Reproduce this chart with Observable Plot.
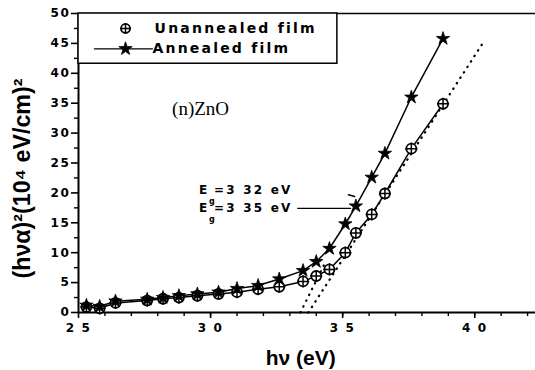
<!DOCTYPE html>
<html>
<head>
<meta charset="utf-8">
<script src="https://cdn.jsdelivr.net/npm/d3@7"></script>
<script src="https://cdn.jsdelivr.net/npm/@observablehq/plot@0.6"></script>
<style>
  html, body { margin: 0; padding: 0; background: white; }
</style>
</head>
<body>
<div id="chart"></div>
<script>
// ---- data ----
const photonEnergy = [2.53, 2.58, 2.64, 2.76, 2.82, 2.88, 2.95, 3.03, 3.10, 3.18, 3.26, 3.35, 3.40, 3.45, 3.51, 3.55, 3.61, 3.66, 3.76, 3.88];
const annealedVals   = [1.2, 1.0, 1.9, 2.2, 2.5, 2.8, 3.1, 3.4, 4.0, 4.5, 5.6, 7.0, 8.5, 10.7, 14.8, 17.8, 22.6, 26.6, 36.0, 45.8];
const unannealedVals = [0.9, 0.7, 1.6, 2.0, 2.3, 2.5, 2.8, 3.1, 3.4, 3.9, 4.3, 5.2, 6.1, 7.2, 10.0, 13.3, 16.4, 19.9, 27.4, 34.9];
// extrapolation (dotted) lines
const fitAnnealed   = [{x: 3.34, y: 0}, {x: 3.43, y: 8}];
const fitUnannealed = [{x: 3.37, y: 0}, {x: 4.03, y: 45}];

const seriesNames = ["Unannealed film", "Annealed film"];
const xTicks = [2.5, 3.0, 3.5, 4.0];
const xTickLabels = ["2 5", "3 0", "3 5", "4 0"];
const yTicks = [0, 5, 10, 15, 20, 25, 30, 35, 40, 45, 50];
const xMinor = d3.range(26, 43).map(d => d / 10);
const yMinor = d3.range(2.5, 50, 5);
const xLabel = "hν (eV)";
const yLabel = "(hνα)²(10⁴ eV/cm)²";
const sampleLabel = "(n)ZnO";
const egLabels = ["=3 32 eV", "=3 35 eV"];

const annealed = photonEnergy.map((x, i) => ({x, y: annealedVals[i]}));
const unannealed = photonEnergy.map((x, i) => ({x, y: unannealedVals[i]}));

const wide = {fontWeight: "bold", fill: "black", fontFamily: "DejaVu Sans, sans-serif"};

const chart = Plot.plot({
  width: 535,
  height: 370,
  marginLeft: 78,
  marginRight: 0,
  marginTop: 13,
  marginBottom: 58,
  x: {domain: [2.5, 4.23]},
  y: {domain: [0, 50]},
  style: {fontFamily: "Liberation Sans, Arial, sans-serif", background: "white", color: "black", overflow: "visible"},
  marks: [
    // minor ticks
    Plot.axisX(xMinor, {tickSize: 4, text: null, label: null, strokeWidth: 1.4}),
    Plot.axisY(yMinor, {tickSize: 4, text: null, label: null, strokeWidth: 1.4}),
    // major axes
    Plot.axisX(xTicks, {tickSize: 6, tickPadding: 5, label: null, strokeWidth: 1.6,
      tickFormat: d => xTickLabels[xTicks.indexOf(d)], fontSize: 12, ...wide}),
    Plot.axisY(yTicks, {tickSize: 7, tickPadding: 1, label: null, strokeWidth: 1.6,
      fontSize: 12, ...wide}),
    Plot.ruleX([2.5], {strokeWidth: 2}),
    Plot.ruleY([0], {strokeWidth: 2}),
    Plot.ruleY([50], {strokeWidth: 1.5}),

    // dotted extrapolations
    Plot.line(fitAnnealed, {x: "x", y: "y", stroke: "black", strokeWidth: 2.2, strokeDasharray: "0.5,6", strokeLinecap: "round"}),
    Plot.line(fitUnannealed, {x: "x", y: "y", stroke: "black", strokeWidth: 2.2, strokeDasharray: "0.5,6", strokeLinecap: "round"}),

    // series lines
    Plot.line(unannealed, {x: "x", y: "y", stroke: "black", strokeWidth: 1.5}),
    Plot.line(annealed, {x: "x", y: "y", stroke: "black", strokeWidth: 1.5}),
    // markers
    Plot.dot(unannealed, {x: "x", y: "y", r: 5, fill: "white", stroke: "black", strokeWidth: 1.8}),
    Plot.dot(unannealed, {x: "x", y: "y", symbol: "plus", r: 4, stroke: "black", strokeWidth: 1.5}),
    Plot.dot(annealed, {x: "x", y: "y", symbol: "star", r: 4.2, fill: "black", stroke: "black", strokeWidth: 0.8}),

    // legend box
    Plot.rect([{x1: 2.5, x2: 3.48, y1: 41.6, y2: 50}], {x1: "x1", x2: "x2", y1: "y1", y2: "y2", fill: "white", stroke: "black", strokeWidth: 1.5}),
    Plot.dot([{x: 2.678, y: 47.5}], {x: "x", y: "y", r: 4.5, fill: "white", stroke: "black", strokeWidth: 1.8}),
    Plot.dot([{x: 2.678, y: 47.5}], {x: "x", y: "y", symbol: "plus", r: 3.6, stroke: "black", strokeWidth: 1.5}),
    Plot.line([{x: 2.56, y: 44.1}, {x: 2.78, y: 44.1}], {x: "x", y: "y", stroke: "black", strokeWidth: 1.2}),
    Plot.dot([{x: 2.678, y: 44.1}], {x: "x", y: "y", symbol: "star", r: 4.2, fill: "black", stroke: "black", strokeWidth: 0.8}),
    Plot.text([seriesNames[0]], {x: 2.788, y: 47.5, text: d => d, textAnchor: "start", fontSize: 14, ...wide}),
    Plot.text([seriesNames[1]], {x: 2.780, y: 44.1, text: d => d, textAnchor: "start", fontSize: 14, ...wide}),

    // sample label
    Plot.text([sampleLabel], {x: 2.962, y: 34.1, text: d => d, fontFamily: "Liberation Serif, Times New Roman, serif", fontSize: 19, fill: "black"}),

    // Eg annotations
    Plot.text(["E", "E"], {x: 2.972, y: [20.4, 17.4], text: d => d, fontSize: 12, ...wide}),
    Plot.text(["g", "g"], {x: 3.005, y: [18.6, 15.6], text: d => d, fontSize: 8, ...wide}),
    Plot.text(egLabels, {x: 3.013, y: [20.4, 17.4], text: d => d, textAnchor: "start", fontSize: 12, ...wide}),
    Plot.line([{x: 3.33, y: 17.4}, {x: 3.53, y: 17.4}], {x: "x", y: "y", stroke: "black", strokeWidth: 1.2}),
    Plot.line([{x: 3.522, y: 19.7}, {x: 3.545, y: 19.4}], {x: "x", y: "y", stroke: "black", strokeWidth: 1.6}),

    // axis titles
    Plot.text([xLabel], {x: 3.341, y: -7.6, text: d => d, fontSize: 21, fontWeight: "bold", fill: "black"}),
    Plot.text([yLabel], {x: 2.288, y: 22.4, text: d => d, rotate: -90, fontSize: 17, fontWeight: "bold", fill: "black"})
  ]
});

// letter spacing / font for the wide, scanned-looking labels
const yTickStrings = yTicks.map(String);
d3.select(chart).selectAll("text").each(function () {
  const t = this.textContent;
  if (seriesNames.includes(t) || egLabels.includes(t)) {
    this.style.letterSpacing = "2.2px";
  } else if (xTickLabels.includes(t) || yTickStrings.includes(t)) {
    this.style.fontFamily = "DejaVu Sans, sans-serif";
    this.style.fontWeight = "bold";
    this.style.fontSize = "12px";
    this.style.letterSpacing = "1.6px";
  }
});

document.getElementById("chart").appendChild(chart);

// fit the y-axis title to the length it has in the original (about 200px)
const yTitle = [...chart.querySelectorAll("text")].find(t => t.textContent === yLabel);
if (yTitle && yTitle.getComputedTextLength) {
  const len = yTitle.getComputedTextLength();
  if (len > 0) yTitle.style.fontSize = (17 * 200 / len).toFixed(2) + "px";
}
</script>
</body>
</html>
